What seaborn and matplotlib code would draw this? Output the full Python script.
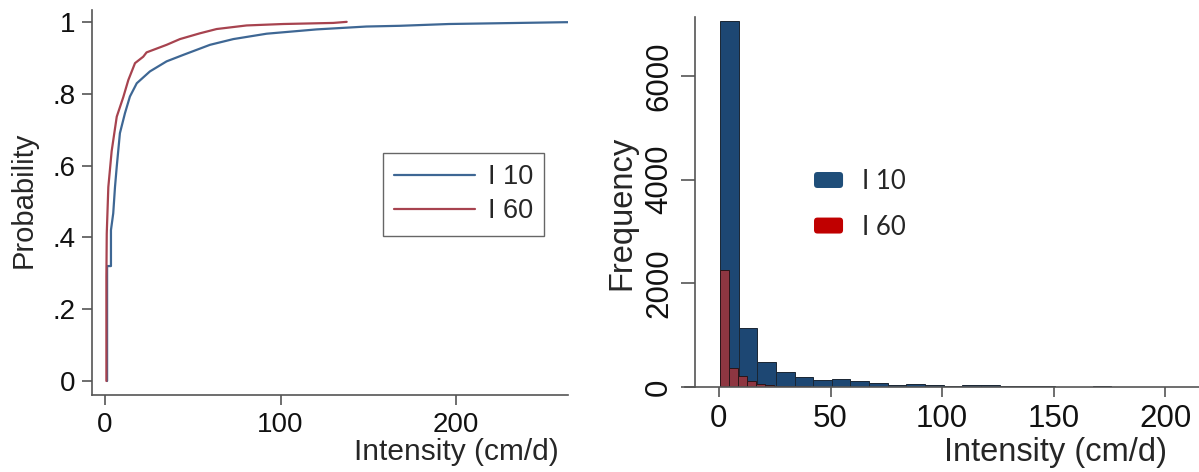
import numpy as np
import pandas as pd
import matplotlib
matplotlib.use("Agg")
import matplotlib.pyplot as plt
from matplotlib.patches import Patch, FancyBboxPatch
from matplotlib.lines import Line2D
from matplotlib.legend_handler import HandlerPatch
import seaborn as sns

sns.set_theme(style="ticks")
plt.rcParams["font.family"] = ["Liberation Sans", "DejaVu Sans"]

# ---- data -----------------------------------------------------------------
series_names = ["I 10", "I 60"]

# empirical cumulative distribution, I 10
cdf10_x = [1.2, 1.2, 3.4, 3.4, 4.7, 5.7, 6.7, 8.5, 11.4, 14.2, 18.1, 25.6, 35.1,
           44.6, 59.8, 73.1, 92.1, 120.6, 149.0, 168.0, 196.0, 236.0, 262.0, 300.0]
cdf10_p = [0.0, 0.32, 0.32, 0.42, 0.467, 0.54, 0.597, 0.69, 0.746, 0.792, 0.829,
           0.862, 0.89, 0.908, 0.936, 0.952, 0.967, 0.979, 0.987, 0.989, 0.994,
           0.997, 0.999, 1.0]

# empirical cumulative distribution, I 60
cdf60_x = [0.8, 0.8, 1.0, 1.9, 3.8, 6.7, 10.4, 13.3, 17.1, 21.8, 23.7, 35.1, 42.7,
           54.0, 63.6, 80.7, 101.6, 130.0, 137.7]
cdf60_p = [0.0, 0.29, 0.41, 0.54, 0.64, 0.736, 0.79, 0.838, 0.885, 0.903, 0.915,
           0.936, 0.952, 0.968, 0.98, 0.99, 0.994, 0.997, 1.0]

# histogram counts
hist10_start, hist10_width = 0.5, 8.35
hist10_counts = [7070, 1130, 490, 290, 188, 136, 155, 117, 75, 40, 60, 40, 20,
                 30, 35, 20, 10, 25, 5, 5, 12, 2, 1, 2, 1, 1]
hist60_start, hist60_width = 0.5, 4.05
hist60_counts = [2260, 365, 215, 120, 60, 45, 15, 20, 15, 20, 8, 6, 8, 5, 4, 6,
                 3, 3, 4, 2, 3, 2, 2, 1, 2, 1, 1, 1, 1, 0, 1, 0, 1, 1]

prob_ticks = [0, 0.2, 0.4, 0.6, 0.8, 1.0]
prob_ticklabels = ["0", ".2", ".4", ".6", ".8", "1"]
cdf_xticks = [0, 100, 200]
freq_ticks = [0, 2000, 4000, 6000]
hist_xticks = [0, 50, 100, 150, 200]

# ---- styling ----------------------------------------------------------------
line_blue, line_red = "#3e6794", "#a7434f"
bar_blue, bar_red = "#1d4773", "#8e3641"
legend_blue, legend_red = "#1f4e79", "#c00000"
axis_grey = "#555555"

fig = plt.figure(figsize=(11.99, 4.72), dpi=100)
ax1 = fig.add_axes([92 / 1199, 77 / 472, 476 / 1199, 385 / 472])
ax2 = fig.add_axes([685 / 1199, 85 / 472, 514 / 1199, 370 / 472])


def style_axes(ax, tick_size):
    for side in ("top", "right"):
        ax.spines[side].set_visible(False)
    for side in ("left", "bottom"):
        ax.spines[side].set_color(axis_grey)
        ax.spines[side].set_linewidth(1.2)
    ax.tick_params(axis="both", direction="out", length=7, width=1.2,
                   color=axis_grey, labelsize=tick_size, labelcolor="#111111",
                   pad=5)


class RoundedSwatch(HandlerPatch):
    """Legend swatch drawn as a small rounded rectangle."""

    def create_artists(self, legend, orig_handle, xdescent, ydescent,
                       width, height, fontsize, trans):
        swatch = FancyBboxPatch((-xdescent, -ydescent), width, height,
                                boxstyle="round,pad=0,rounding_size=2.5",
                                facecolor=orig_handle.get_facecolor(),
                                edgecolor="none", transform=trans)
        return [swatch]


# ---- left: cumulative distributions ------------------------------------------
cdf_df = pd.concat([
    pd.DataFrame({"x": cdf10_x, "p": cdf10_p, "series": series_names[0]}),
    pd.DataFrame({"x": cdf60_x, "p": cdf60_p, "series": series_names[1]}),
])
sns.lineplot(data=cdf_df, x="x", y="p", hue="series", estimator=None, sort=False,
             palette=[line_blue, line_red], linewidth=1.6, ax=ax1, legend=False)
ax1.set_xlim(-7.4, 263.8)
ax1.set_ylim(-0.039, 1.033)
ax1.set_xticks(cdf_xticks)
ax1.set_yticks(prob_ticks)
ax1.set_yticklabels(prob_ticklabels)
style_axes(ax1, 20)
ax1.set_xlabel("Intensity (cm/d)", fontsize=21.5, va="center")
ax1.xaxis.set_label_coords(0.765, -0.148)
ax1.set_ylabel("Probability", fontsize=21, va="center")
ax1.yaxis.set_label_coords(-0.143, 0.506)

handles1 = [Line2D([], [], color=line_blue, lw=1.6),
            Line2D([], [], color=line_red, lw=1.6)]
leg1 = ax1.legend(handles1, series_names, loc="upper left",
                  bbox_to_anchor=(0.611, 0.629), fontsize=19.5, frameon=True,
                  fancybox=False, edgecolor="#404040", handlelength=3.0,
                  handletextpad=0.45, labelspacing=0.3, borderpad=0.42,
                  borderaxespad=0)
leg1.get_frame().set_linewidth(1.0)

# ---- right: histograms -------------------------------------------------------
edges10 = [float(v) for v in hist10_start + hist10_width * np.arange(len(hist10_counts) + 1)]
edges60 = [float(v) for v in hist60_start + hist60_width * np.arange(len(hist60_counts) + 1)]
hist10_df = pd.DataFrame({
    "x": [(a + b) / 2 for a, b in zip(edges10[:-1], edges10[1:])],
    "n": hist10_counts,
})
hist60_df = pd.DataFrame({
    "x": [(a + b) / 2 for a, b in zip(edges60[:-1], edges60[1:])],
    "n": hist60_counts,
})

sns.histplot(data=hist10_df, x="x", weights="n", bins=edges10, ax=ax2,
             color=bar_blue, alpha=1, edgecolor="#1a2633", linewidth=0.7)
sns.histplot(data=hist60_df, x="x", weights="n", bins=edges60, ax=ax2,
             color=bar_red, alpha=1, edgecolor="#2b1518", linewidth=0.7)
ax2.set_xlim(-15.2, 215.1)
ax2.set_ylim(0, 7140)
ax2.set_xticks(hist_xticks)
ax2.set_yticks(freq_ticks)
style_axes(ax2, 22.5)
ax2.spines["left"].set_position(("data", -10.7))
ax2.tick_params(axis="y", length=10)
for lbl in ax2.get_yticklabels():
    lbl.set_rotation(90)
    lbl.set_va("center")
ax2.set_xlabel("Intensity (cm/d)", fontsize=23.5, va="center")
ax2.xaxis.set_label_coords(0.72, -0.176)
ax2.set_ylabel("Frequency", fontsize=23.5, va="center")
ax2.yaxis.set_label_coords(-0.1226, 0.47)

handles2 = [Patch(facecolor=legend_blue, edgecolor="none"),
            Patch(facecolor=legend_red, edgecolor="none")]
leg2 = ax2.legend(handles2, series_names, loc="upper left",
                  bbox_to_anchor=(0.251, 0.589), frameon=False,
                  prop={"family": ["Lato", "DejaVu Sans"], "size": 18.5},
                  handlelength=1.13, handleheight=0.58, handletextpad=0.75,
                  labelspacing=0.8, borderpad=0, borderaxespad=0,
                  handler_map={Patch: RoundedSwatch()})

fig.savefig("out.png", dpi=100)
